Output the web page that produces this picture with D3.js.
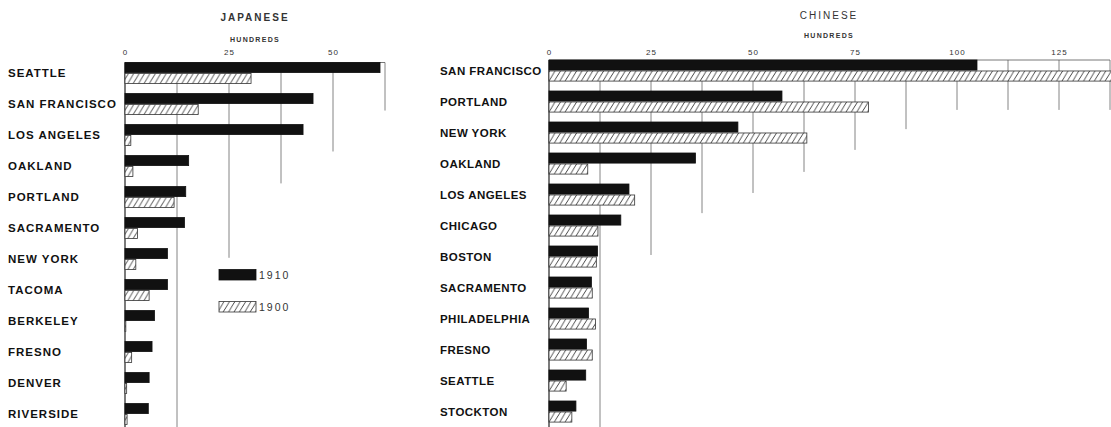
<!DOCTYPE html>
<html><head><meta charset="utf-8">
<script src="https://cdn.jsdelivr.net/npm/d3@7"></script>
<style>
html,body{margin:0;padding:0;background:#fff;}
svg{display:block;}
.lbl{font-family:"Liberation Sans",Arial,sans-serif;font-weight:bold;font-size:11.5px;fill:#111;}
.ttl{font-family:"Liberation Sans",Arial,sans-serif;fill:#333;}
</style></head>
<body>
<svg id="c" width="1111" height="427"></svg>
<script>
// ---- data (hundreds of persons) ----
const series = ["1910", "1900"];
const japCities = ["SEATTLE","SAN FRANCISCO","LOS ANGELES","OAKLAND","PORTLAND","SACRAMENTO","NEW YORK","TACOMA","BERKELEY","FRESNO","DENVER","RIVERSIDE"];
const jap1910 = [61.3, 45.2, 42.8, 15.3, 14.6, 14.3, 10.2, 10.2, 7.1, 6.5, 5.8, 5.6];
const jap1900 = [30.3, 17.6, 1.4, 1.9, 11.8, 3.0, 2.6, 5.8, 0.2, 1.6, 0.4, 0.5];
const japTicks = [0, 25, 50];
const japGrid = [12.5, 25, 37.5, 50, 62.5];
const japGridStop = [12, 6.3, 3.9, 2.87, 1.55];   // row index where each grid line stops

const chiCities = ["SAN FRANCISCO","PORTLAND","NEW YORK","OAKLAND","LOS ANGELES","CHICAGO","BOSTON","SACRAMENTO","PHILADELPHIA","FRESNO","SEATTLE","STOCKTON"];
const chi1910 = [104.9, 57.1, 46.3, 35.9, 19.6, 17.6, 11.9, 10.4, 9.7, 9.2, 9.0, 6.6];
const chi1900 = [139.5, 78.3, 63.2, 9.5, 21.0, 12.0, 11.6, 10.6, 11.4, 10.6, 4.2, 5.6];
const chiTicks = [0, 25, 50, 75, 100, 125];
const chiGrid = [12.5, 25, 37.5, 50, 62.5, 75, 87.5, 100, 112.5, 125, 137.5];
const chiGridStop = [12, 6.29, 4.94, 4.29, 3.61, 2.9, 2.23, 1.61, 1.61, 1.61, 1.61];

const svg = d3.select("#c");
const defs = svg.append("defs");
const pat = defs.append("pattern").attr("id","hatch").attr("patternUnits","userSpaceOnUse")
  .attr("width",5.4).attr("height",9);
pat.append("rect").attr("width",5.4).attr("height",9).attr("fill","#fff");
pat.append("path").attr("d","M-5.4,9 L0,0 M0,9 L5.4,0 M5.4,9 L10.8,0")
  .attr("stroke","#333").attr("stroke-width",0.9);

function panel(o){
  const g = svg.append("g");
  const x = d3.scaleLinear().domain([0, o.max]).range([o.x0, o.x1]);
  const y = d3.scaleBand().domain(o.cities).range([o.top, o.top + 31*(12 - 0.32)]).paddingInner(0.32).paddingOuter(0);
  const yRow = d3.scaleLinear().domain([0, 1]).range([o.top, o.top + y.step()]);
  const ys = d3.scaleBand().domain(series).range([0, y.bandwidth()]).paddingInner(0.08);

  // titles
  g.append("text").attr("class","ttl").attr("x",o.titleX).attr("y",o.titleY).attr("text-anchor","middle")
    .attr("font-size",10).attr("font-weight",o.titleW).attr("letter-spacing",2).text(o.title);
  g.append("text").attr("class","ttl").attr("x",o.titleX).attr("y",o.unitY).attr("text-anchor","middle")
    .attr("font-size",7).attr("font-weight","bold").attr("letter-spacing",1.3).text("HUNDREDS");

  // axis labels
  const ax = g.append("g").attr("transform",`translate(0,${o.tickY})`)
    .call(d3.axisTop(x).tickValues(o.ticks).tickSize(0).tickPadding(0).tickFormat(d3.format("d")));
  ax.select(".domain").remove();
  ax.selectAll("text").attr("font-family","Liberation Sans, Arial, sans-serif").attr("font-size",8)
    .attr("fill","#333").attr("letter-spacing",1).attr("dy",0);

  // grid lines
  g.append("g").selectAll("line").data(o.grid).join("line")
    .attr("x1",d=>x(d)).attr("x2",d=>x(d))
    .attr("y1",o.top).attr("y2",(d,i)=>yRow(o.gridStop[i]))
    .attr("stroke","#666").attr("stroke-width",0.8);
  // top line and zero axis
  g.append("line").attr("x1",x(0)).attr("x2",x(o.max)).attr("y1",o.top).attr("y2",o.top)
    .attr("stroke","#555").attr("stroke-width",0.8);
  g.append("line").attr("x1",x(0)).attr("x2",x(0)).attr("y1",o.top).attr("y2",427)
    .attr("stroke","#222").attr("stroke-width",1.2);

  // bars
  const rows = o.cities.map((c,i)=>({c, v:[o.v1910[i], o.v1900[i]]}));
  const grp = g.append("g").selectAll("g").data(rows).join("g")
    .attr("transform",d=>`translate(0,${y(d.c)})`);
  grp.selectAll("rect").data(d=>series.map((s,k)=>({s, v:d.v[k]}))).join("rect")
    .attr("x",x(0)).attr("y",d=>ys(d.s)).attr("height",ys.bandwidth())
    .attr("width",d=>x(d.v)-x(0))
    .attr("fill",d=>d.s==="1910" ? "#111" : "url(#hatch)")
    .attr("stroke",d=>d.s==="1910" ? "#111" : "#333").attr("stroke-width",0.8);

  // city labels
  g.append("g").selectAll("text").data(o.cities).join("text").attr("class","lbl")
    .attr("x",o.labelX).attr("y",d=>y(d)+y.bandwidth()/2+4)
    .attr("letter-spacing",o.ls).text(d=>d);
  return {x, y};
}

panel({cities:japCities, v1910:jap1910, v1900:jap1900, max:62.5, x0:125, x1:385, top:62.5,
  ticks:japTicks, grid:japGrid, gridStop:japGridStop, title:"JAPANESE", titleW:"bold", titleX:255, titleY:21, unitY:42, tickY:55,
  labelX:8, ls:1.0});
panel({cities:chiCities, v1910:chi1910, v1900:chi1900, max:137.5, x0:549, x1:1110, top:60,
  ticks:chiTicks, grid:chiGrid, gridStop:chiGridStop, title:"CHINESE", titleW:"normal", titleX:829, titleY:19, unitY:38, tickY:55,
  labelX:440, ls:0.45});

// legend
const leg = svg.append("g");
const legY = d3.scalePoint().domain(series).range([269.5, 301.5]);
leg.selectAll("rect").data(series).join("rect")
  .attr("x",219).attr("width",37).attr("y",d=>legY(d)).attr("height",10.5)
  .attr("fill",d=>d==="1910" ? "#111" : "url(#hatch)").attr("stroke",d=>d==="1910"?"#111":"#333").attr("stroke-width",0.8);
leg.selectAll("text").data(series).join("text")
  .attr("x",259).attr("y",d=>legY(d)+9.5)
  .attr("font-family","Liberation Sans, Arial, sans-serif").attr("font-size",10.5).attr("letter-spacing",2)
  .attr("fill","#333").text(d=>d);
</script>
</body></html>
